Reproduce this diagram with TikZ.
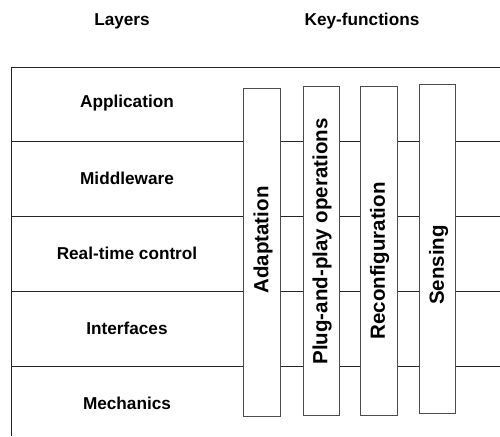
\documentclass[tikz,border=0pt]{standalone}
\usepackage{fontspec}
\setmainfont{Liberation Sans}[BoldFont={Liberation Sans Bold}]
\begin{document}
\begin{tikzpicture}[x=1pt,y=-1pt,
  rowline/.style={draw=black!85, line width=0.9pt},
  keybox/.style={draw=black!70, fill=white, line width=0.9pt, inner sep=0pt},
  layerlabel/.style={font=\fontsize{17.2}{20}\selectfont\bfseries, inner sep=0pt},
  keylabel/.style={font=\fontsize{20.5}{24}\selectfont\bfseries, inner sep=0pt, rotate=90},
  headlabel/.style={font=\fontsize{17.2}{20}\selectfont\bfseries, inner sep=0pt}]
\useasboundingbox (0,0) rectangle (500,436);
% header
\node[headlabel] (hl) at (122,21) {Layers};
\node[headlabel] (hk) at (362,21) {Key-functions};
% frame and row lines
\draw[rowline] (11,436) -- (11,67) -- (500,67);
\foreach \yy in {141,216,291,366}{
  \draw[rowline] (11,\yy) -- (500,\yy);
}
% layer labels
\node[layerlabel] (l1) at (127,103.5) {Application};
\node[layerlabel] (l2) at (127,178.5) {Middleware};
\node[layerlabel] (l3) at (127,253.5) {Real-time control};
\node[layerlabel] (l4) at (127,328.5) {Interfaces};
\node[layerlabel] (l5) at (127,403.5) {Mechanics};
% key function boxes
\node[keybox, minimum width=36.6pt, minimum height=328.7pt] (b1) at (262,252.3) {};
\node[keybox, minimum width=35.7pt, minimum height=328.7pt] (b2) at (321.2,250.7) {};
\node[keybox, minimum width=36.7pt, minimum height=328.7pt] (b3) at (378.7,250.7) {};
\node[keybox, minimum width=36pt, minimum height=329.4pt] (b4) at (437.7,249) {};
\node[keylabel] (k1) at (263,240) {Adaptation};
\node[keylabel] (k2) at (322,241.5) {Plug-and-play operations};
\node[keylabel] (k3) at (379.5,261) {Reconfiguration};
\node[keylabel] (k4) at (438.5,265) {Sensing};
\end{tikzpicture}
\end{document}
